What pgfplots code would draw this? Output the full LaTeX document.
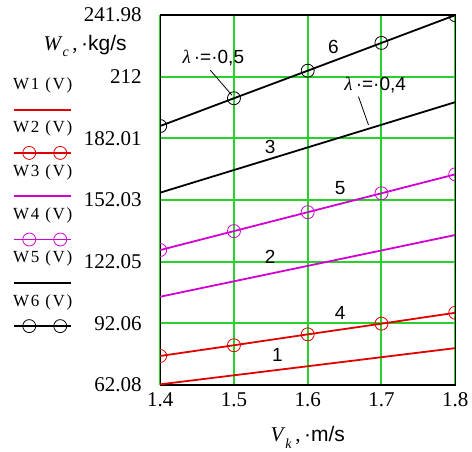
\documentclass[border=0pt]{standalone}
\usepackage{fontspec}
\setmainfont{Liberation Serif}
\setsansfont{Liberation Sans}
\usepackage{pgfplots}
\pgfplotsset{compat=1.18}
\definecolor{gridgreen}{RGB}{40,210,40}
\definecolor{cred}{RGB}{225,0,0}
\definecolor{cmag}{RGB}{210,0,210}
\begin{document}
\begin{tikzpicture}
\path (0,0) rectangle (472pt,447pt);
\begin{axis}[
  at={(160.2pt,62pt)}, anchor=south west,
  scale only axis, width=295pt, height=370pt,
  xmin=1.4, xmax=1.8, ymin=62.08, ymax=241.98,
  xtick={1.4,1.5,1.6,1.7,1.8},
  xticklabels={1.4,1.5,1.6,1.7,1.8},
  ytick={62.08,92.063,122.046,152.029,182.012,211.995,241.978},
  yticklabels={62.08,92.06,122.05,152.03,182.01,212,241.98},
  major tick length=0pt,
  xmajorgrids=true, ymajorgrids=true,
  grid style={gridgreen, line width=2pt},
  major grid style={gridgreen, line width=2pt},
  axis line style={line width=1.3pt},
  tick label style={font=\fontsize{21}{23}\selectfont},
  yticklabel style={xshift=-15pt},
  xticklabel style={yshift=-4pt},
  clip marker paths=true,
  xlabel={\textit{V}\raisebox{-0.3em}{\fontsize{14}{14}\selectfont\textit{k}}\,,\,{\sffamily·m/s}},
  ylabel={\textit{W}\raisebox{-0.3em}{\fontsize{14}{14}\selectfont\textit{c}}\,,\,{\sffamily·kg/s}},
  every axis x label/.style={at={(axis description cs:0.5,-0.154)}, anchor=base, font=\fontsize{21}{23}\selectfont},
  every axis y label/.style={at={(axis description cs:-0.1017,0.9054)}, anchor=base east, font=\fontsize{21}{23}\selectfont},
  legend style={at={(axis description cs:-0.508,0.8308)}, anchor=north west,
    draw=none, fill=none, inner sep=0pt, outer sep=0pt,
    row sep=27.3pt, column sep=0pt,
    font=\fontsize{17}{19}\selectfont\addfontfeatures{LetterSpace=10},
    nodes={inner sep=1pt, text height=11pt, text depth=3pt}},
  legend cell align=left,
  legend image code/.code={
    \path (0pt,0pt) -- (0.01pt,0pt);
    \draw[overlay] (3pt,-24pt) -- (60pt,-24pt);
    \draw[overlay] plot[only marks] coordinates {(18pt,-24pt) (49pt,-24pt)};
  },
]
% W1 : curve 1
\addplot[cred, line width=1.8pt] coordinates {(1.4,62.4) (1.5,66.8) (1.6,71.2) (1.7,75.6) (1.8,80.0)};
\addlegendentry{W1 (V)}
% W2 : curve 4
\addplot[cred, line width=1.8pt, mark=o, mark size=6.5pt, mark options={line width=0.8pt}] coordinates {(1.4,76.2) (1.5,81.4) (1.6,86.7) (1.7,91.9) (1.8,97.2)};
\addlegendentry{W2 (V)}
% W3 : curve 2
\addplot[cmag, line width=1.8pt] coordinates {(1.4,105.0) (1.5,112.5) (1.6,120.0) (1.7,127.5) (1.8,135.0)};
\addlegendentry{W3 (V)}
% W4 : curve 5
\addplot[cmag, line width=1.8pt, mark=o, mark size=6.5pt, mark options={line width=0.8pt}] coordinates {(1.4,127.7) (1.5,136.9) (1.6,146.1) (1.7,155.3) (1.8,164.5)};
\addlegendentry{W4 (V)}
% W5 : curve 3
\addplot[black, line width=1.8pt] coordinates {(1.4,155.6) (1.5,166.6) (1.6,177.6) (1.7,188.6) (1.8,199.6)};
\addlegendentry{W5 (V)}
% W6 : curve 6
\addplot[black, line width=1.8pt, mark=o, mark size=6.5pt, mark options={line width=0.8pt}] coordinates {(1.4,188.0) (1.5,201.5) (1.6,214.9) (1.7,228.4) (1.8,241.9)};
\addlegendentry{W6 (V)}

\begin{scope}[font=\sffamily\fontsize{19}{21}\selectfont]
\node at (axis cs:1.559,76.7) {1};
\node at (axis cs:1.644,97.1) {4};
\node at (axis cs:1.549,124.5) {2};
\node at (axis cs:1.644,157.9) {5};
\node at (axis cs:1.549,177.9) {3};
\node at (axis cs:1.635,226.6) {6};
\node at (axis cs:1.472,221.1) {{\rmfamily\itshape λ}\,·=·0,5};
\node at (axis cs:1.6915,207.9) {{\rmfamily\itshape λ}\,·=·0,4};
\end{scope}
\draw[line width=0.8pt] (axis cs:1.4678,215.2) -- (axis cs:1.4972,203.0);
\draw[line width=0.8pt] (axis cs:1.6689,202.3) -- (axis cs:1.6824,188.5);
\end{axis}
\end{tikzpicture}
\end{document}
